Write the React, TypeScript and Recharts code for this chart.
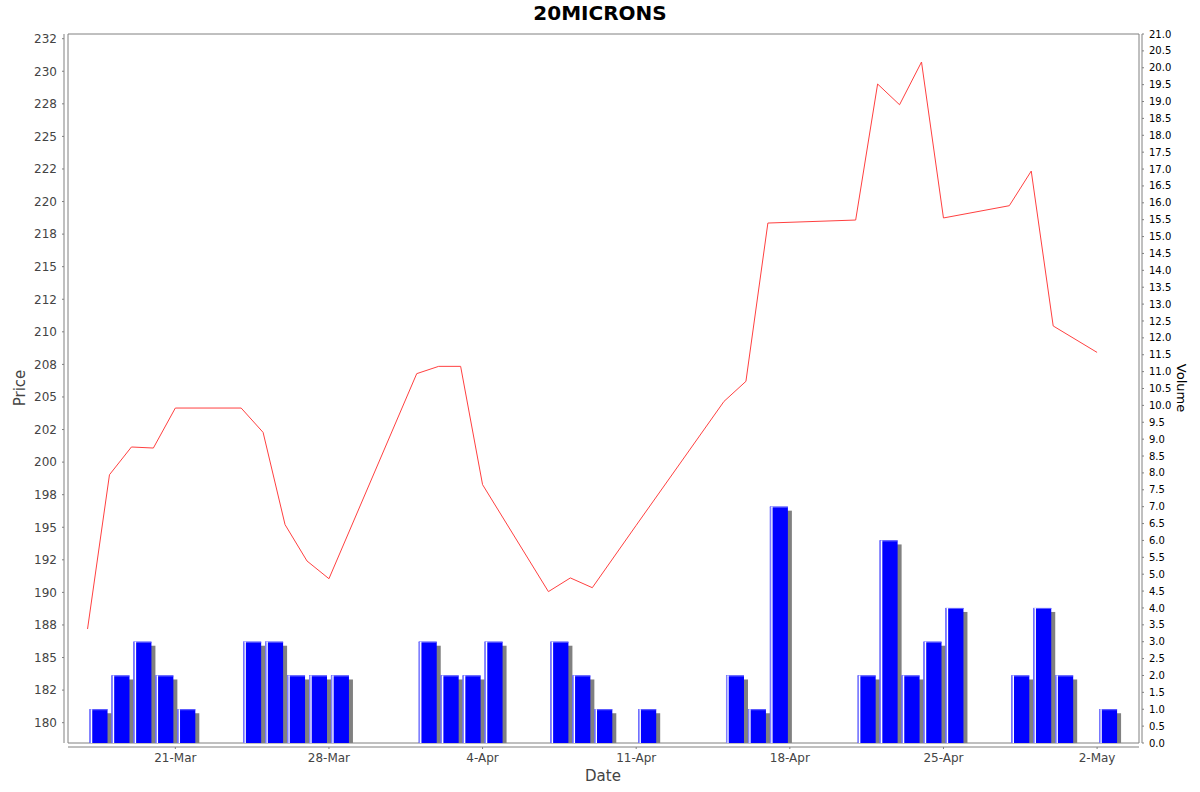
import React from 'react'
import { ComposedChart, Line, Bar, XAxis, YAxis, ReferenceArea } from 'recharts'

// trading days (2025), closing price and volume
const dates = [
  '2025-03-17', '2025-03-18', '2025-03-19', '2025-03-20', '2025-03-21',
  '2025-03-24', '2025-03-25', '2025-03-26', '2025-03-27', '2025-03-28',
  '2025-04-01', '2025-04-02', '2025-04-03', '2025-04-04',
  '2025-04-07', '2025-04-08', '2025-04-09', '2025-04-11',
  '2025-04-15', '2025-04-16', '2025-04-17',
  '2025-04-21', '2025-04-22', '2025-04-23', '2025-04-24', '2025-04-25',
  '2025-04-28', '2025-04-29', '2025-04-30', '2025-05-02',
]
const prices = [
  187.19, 199.03, 201.16, 201.08, 204.15,
  204.15, 202.28, 195.2, 192.41, 191.05,
  206.79, 207.35, 207.35, 198.27,
  190.06, 191.11, 190.36, 195.15,
  204.66, 206.2, 218.35,
  218.58, 229.02, 227.43, 230.71, 218.74,
  219.68, 222.34, 210.45, 208.42,
]
const volumes = [
  1, 2, 3, 2, 1,
  3, 3, 2, 2, 2,
  3, 2, 2, 3,
  3, 2, 1, 1,
  2, 1, 7,
  2, 6, 2, 3, 4,
  2, 4, 2, 1,
]

const dateTicks = ['2025-03-21', '2025-03-28', '2025-04-04', '2025-04-11', '2025-04-18', '2025-04-25', '2025-05-02']
const priceTicks = [
  180, 182.5, 185, 187.5, 190, 192.5, 195, 197.5, 200, 202.5, 205,
  207.5, 210, 212.5, 215, 217.5, 220, 222.5, 225, 227.5, 230, 232.5,
]
const volumeTicks = [
  0, 0.5, 1, 1.5, 2, 2.5, 3, 3.5, 4, 4.5, 5, 5.5, 6, 6.5, 7, 7.5, 8, 8.5, 9, 9.5, 10, 10.5,
  11, 11.5, 12, 12.5, 13, 13.5, 14, 14.5, 15, 15.5, 16, 16.5, 17, 17.5, 18, 18.5, 19, 19.5, 20, 20.5, 21,
]
const monthNames = ['Jan', 'Feb', 'Mar', 'Apr', 'May', 'Jun', 'Jul', 'Aug', 'Sep', 'Oct', 'Nov', 'Dec']

const DAY = 86400000
const toDay = (s: string) => {
  const [y, m, d] = s.split('-').map(Number)
  return Date.UTC(y, m - 1, d) / DAY
}
const fmtDate = (v: number) => {
  const d = new Date(v * DAY)
  return `${d.getUTCDate()}-${monthNames[d.getUTCMonth()]}`
}
// java DecimalFormat style (half-even) rounding
const fmtPrice = (v: number) => {
  const f = Math.floor(v)
  const r = v - f
  const n = r > 0.5 ? f + 1 : r < 0.5 ? f : f % 2 === 0 ? f : f + 1
  return String(n)
}

const data = dates.map((d, i) => ({ day: toDay(d), price: prices[i], volume: volumes[i] }))

const xDomain = [toDay(dates[0]) - 0.89, toDay(dates[dates.length - 1]) + 1.91]
// bars fill the whole day, so their axis is shifted half a day
const barDomain = [xDomain[0] - 0.5, xDomain[1] - 0.5]
const priceDomain = [178.44, 232.86]

const font = '"DejaVu Sans", sans-serif'

function VolumeBar(props: any) {
  const { x, y, width, height } = props
  if (!height || height <= 0) return null
  return (
    <g>
      <rect x={x + 4} y={y + 4} width={width} height={Math.max(0, height - 4)} fill="#808080" />
      <rect x={x} y={y} width={width} height={height} fill="#0000ff" />
      <rect x={x} y={y} width={width} height={1} fill="#6666ff" />
      <rect x={x} y={y} width={1.3} height={height} fill="#8080ff" />
      <rect x={x + 1.3} y={y} width={1.4} height={height} fill="#ffffff" />
    </g>
  )
}

export default function App() {
  return (
    <div style={{ position: 'absolute', left: 0, top: 0, width: 1200, height: 792, background: '#fff', fontFamily: font }}>
      <div style={{ position: 'absolute', left: 0, top: 0, width: 1200, textAlign: 'center', fontSize: 20, fontWeight: 'bold', lineHeight: '26px', color: '#000' }}>
        20MICRONS
      </div>
      <ComposedChart width={1200} height={792} data={data} margin={{ top: 34, right: 0, bottom: 0, left: 0 }}>
        <XAxis
          xAxisId="a"
          dataKey="day"
          type="number"
          domain={xDomain}
          allowDataOverflow
          ticks={dateTicks.map(toDay)}
          interval={0}
          tickFormatter={fmtDate}
          height={49}
          tickSize={2}
          tickMargin={8}
          axisLine={{ stroke: '#808080', transform: 'translate(0,4)' }}
          tickLine={{ stroke: '#808080', transform: 'translate(0,4)' }}
          tick={{ fill: '#444444', fontSize: 12, fontFamily: font }}
        />
        <XAxis xAxisId="b" dataKey="day" type="number" domain={barDomain} allowDataOverflow height={0} hide />
        <YAxis
          yAxisId="price"
          orientation="left"
          domain={priceDomain}
          allowDataOverflow
          ticks={priceTicks}
          interval={0}
          tickFormatter={fmtPrice}
          width={68}
          tickSize={2}
          tickMargin={9}
          axisLine={{ stroke: '#808080', transform: 'translate(-4,0)' }}
          tickLine={{ stroke: '#808080', transform: 'translate(-4,0)' }}
          tick={{ fill: '#444444', fontSize: 12, fontFamily: font }}
        />
        <YAxis
          yAxisId="volume"
          orientation="right"
          domain={[0, 21]}
          allowDataOverflow
          ticks={volumeTicks}
          interval={0}
          tickFormatter={(v: number) => v.toFixed(1)}
          width={61}
          tickSize={2}
          tickMargin={8}
          axisLine={{ stroke: '#808080', transform: 'translate(3,0)' }}
          tickLine={{ stroke: '#808080', transform: 'translate(3,0)' }}
          tick={{ fill: '#000000', fontSize: 10, fontFamily: font }}
        />
        <ReferenceArea
          xAxisId="a"
          yAxisId="price"
          x1={xDomain[0]}
          x2={xDomain[1]}
          y1={priceDomain[0]}
          y2={priceDomain[1]}
          fill="none"
          stroke="#808080"
          strokeWidth={1}
        />
        <Bar
          xAxisId="b"
          yAxisId="volume"
          dataKey="volume"
          barSize={18}
          shape={<VolumeBar />}
          isAnimationActive={false}
        />
        <Line
          xAxisId="a"
          yAxisId="price"
          dataKey="price"
          type="linear"
          stroke="#ff4040"
          strokeWidth={1}
          dot={false}
          activeDot={false}
          isAnimationActive={false}
        />
      </ComposedChart>
      <div style={{ position: 'absolute', left: 603, top: 776, transform: 'translate(-50%,-50%)', fontSize: 15, color: '#444444', whiteSpace: 'nowrap' }}>
        Date
      </div>
      <div style={{ position: 'absolute', left: 20, top: 388, transform: 'translate(-50%,-50%) rotate(-90deg)', fontSize: 15, color: '#444444', whiteSpace: 'nowrap' }}>
        Price
      </div>
      <div style={{ position: 'absolute', left: 1181, top: 388, transform: 'translate(-50%,-50%) rotate(90deg)', fontSize: 13, color: '#000000', whiteSpace: 'nowrap' }}>
        Volume
      </div>
    </div>
  )
}
